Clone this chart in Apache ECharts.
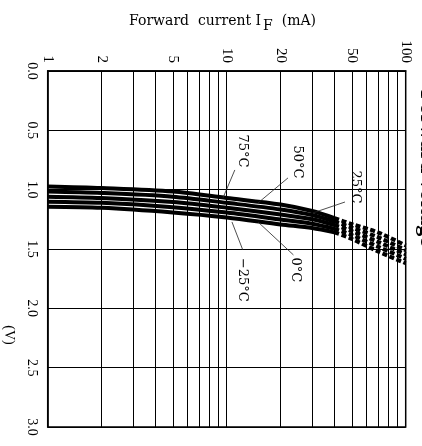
<!DOCTYPE html>
<html><head><meta charset="utf-8">
<script src="https://cdn.jsdelivr.net/npm/echarts@6/dist/echarts.min.js"></script>
<style>html,body{margin:0;padding:0;background:#fff}#c{width:422px;height:446px}</style>
</head><body><div id="c"></div>
<script>
// ---- data ----
const currents = [1, 2, 5, 10, 20, 30, 40, 50, 70, 100];   // mA
const dashFrom = 40;                                         // mA, curves drawn dashed above this
const tempNames = ['75°C', '50°C', '25°C', '0°C', '−25°C'];
const vf75  = [0.973, 0.986, 1.015, 1.070, 1.125, 1.180, 1.240, 1.290, 1.360, 1.470];
const vf50  = [1.016, 1.028, 1.059, 1.111, 1.167, 1.214, 1.268, 1.320, 1.400, 1.510];
const vf25  = [1.059, 1.070, 1.104, 1.152, 1.209, 1.250, 1.298, 1.350, 1.440, 1.545];
const vf0   = [1.101, 1.111, 1.148, 1.193, 1.251, 1.287, 1.330, 1.382, 1.480, 1.583];
const vfm25 = [1.144, 1.153, 1.192, 1.234, 1.293, 1.323, 1.360, 1.415, 1.520, 1.620];
const xLabelValues = [1, 2, 5, 10, 20, 50, 100];
const xGridValues = [1, 2, 3, 4, 5, 6, 7, 8, 9, 10, 20, 30, 40, 50, 60, 70, 80, 90, 100];
const yMin = 0, yMax = 3, yStep = 0.5;

const allVf = [vf75, vf50, vf25, vf0, vfm25];
const SERIF = '"Liberation Serif", "DejaVu Serif", serif';
const WIDE_SERIF = '"DejaVu Serif", "Liberation Serif", serif';

// annotation anchors (in data space: [mA, V])
const notes = [
  { name: tempNames[0], text: [12.2, 0.674], a: [11.1, 0.834], b: [9.53, 1.07] },
  { name: tempNames[1], text: [24.7, 0.767], a: [22.0, 0.901], b: [14.96, 1.112] },
  { name: tempNames[2], text: [52.1, 0.977], a: [45.8, 1.104], b: [30.3, 1.196] },
  { name: tempNames[3], text: [24.1, 1.676], a: [23.6, 1.55], b: [14.96, 1.272] },
  { name: tempNames[4], text: [12.3, 1.76], a: [12.3, 1.508], b: [10.7, 1.272] }
];

const series = [];
allVf.forEach((vf, i) => {
  const solid = [], dashed = [];
  currents.forEach((c, j) => {
    if (c <= dashFrom) solid.push([c, vf[j]]);
    if (c >= dashFrom) dashed.push([c, vf[j]]);
  });
  const n = notes[i];
  series.push({
    type: 'line', name: tempNames[i], data: solid, showSymbol: false, smooth: 0.3,
    lineStyle: { color: '#000', width: 4 }, z: 3,
    markPoint: {
      symbol: 'circle', symbolSize: 0, silent: true,
      label: { show: true, formatter: '{b}', rotate: -90, position: 'inside',
               fontFamily: WIDE_SERIF, fontSize: 13, color: '#000' },
      data: [{ coord: n.text, name: n.name }]
    },
    markLine: {
      symbol: ['none', 'none'], silent: true, label: { show: false },
      lineStyle: { color: '#222', width: 0.8, type: 'solid' },
      data: [[{ coord: n.a }, { coord: n.b }]]
    }
  });
  series.push({
    type: 'line', name: tempNames[i] + ' ', data: dashed, showSymbol: false, smooth: 0.3,
    lineStyle: { color: '#000', width: 4, type: [5, 2.5] }, z: 3
  });
});

const chart = echarts.init(document.getElementById('c'), null, { renderer: 'canvas' });
chart.setOption({
  animation: false,
  backgroundColor: '#fff',
  title: {
    text: 'Forward  current I{sub|F}  (mA)',
    left: 124, top: 5,
    textStyle: {
      fontFamily: WIDE_SERIF, fontSize: 14, fontWeight: 'normal', color: '#000',
      rich: { sub: { fontFamily: WIDE_SERIF, fontSize: 14, color: '#000', padding: [9, 0, 0, 2] } }
    }
  },
  grid: { left: 47.7, top: 71, right: 16.3, bottom: 19, show: true,
          borderColor: '#000', borderWidth: 1.5, backgroundColor: 'transparent' },
  xAxis: {
    type: 'log', logBase: 10, min: 1, max: 100, position: 'top',
    axisLine: { show: true, lineStyle: { color: '#000', width: 1.5 } },
    axisTick: { show: false, customValues: xGridValues },
    axisLabel: { customValues: xLabelValues, rotate: -90, margin: 8,
                 fontFamily: SERIF, fontSize: 15, color: '#000' },
    splitLine: { show: true, lineStyle: { color: '#000', width: 1 } },
    minorSplitLine: { show: false }
  },
  yAxis: {
    type: 'value', inverse: true, min: yMin, max: yMax, interval: yStep,
    axisLine: { show: true, lineStyle: { color: '#000', width: 1.5 } },
    axisTick: { show: false },
    axisLabel: { rotate: -90, margin: 9, fontFamily: SERIF, fontSize: 14, color: '#000',
                 formatter: v => v.toFixed(1) },
    splitLine: { show: true, lineStyle: { color: '#000', width: 1 } }
  },
  graphic: [
    { type: 'text', x: 9, y: 335, rotation: -Math.PI / 2,
      style: { text: '(V)', font: '14px ' + SERIF, fill: '#000', align: 'center', verticalAlign: 'middle' } },
    { type: 'text', x: 427, y: 168, rotation: -Math.PI / 2,
      style: { text: 'Forward voltage', font: 'bold 22px ' + SERIF, fill: '#000', align: 'center', verticalAlign: 'middle' } }
  ],
  series: series
});
</script>
</body></html>
